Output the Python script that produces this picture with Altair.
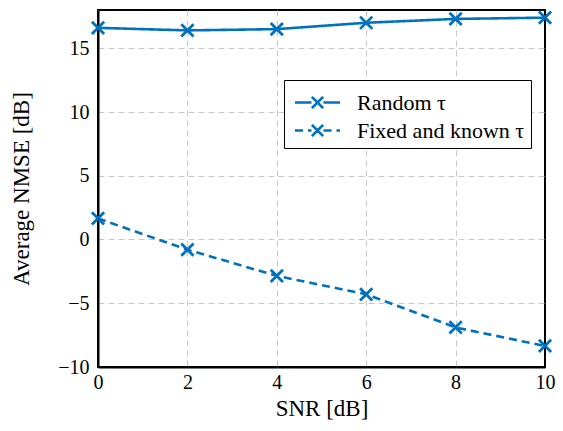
import altair as alt
import pandas as pd

snr = [0, 2, 4, 6, 8, 10]
random_tau = [16.6, 16.4, 16.5, 17.0, 17.3, 17.4]
fixed_tau = [1.65, -0.8, -2.85, -4.3, -6.9, -8.35]
series_names = ["Random τ", "Fixed and known τ"]

rows = []
for x, y in zip(snr, random_tau):
    rows.append({"snr": x, "nmse": y, "series": series_names[0]})
for x, y in zip(snr, fixed_tau):
    rows.append({"snr": x, "nmse": y, "series": series_names[1]})
df = pd.DataFrame(rows)

BLUE = "#0072BD"
FONT = "Liberation Serif"
xmark = "M-1,-1L1,1M-1,1L1,-1"
legend_sym = ("M-1.5,0L-0.4,0M0.4,0L1.5,0"
              "M0,0L0.38,0.38M0,0L-0.38,-0.38M0,0L0.38,-0.38M0,0L-0.38,0.38")

def make_legend():
    return alt.Legend(title=None, orient="none", legendX=186, legendY=70,
                      symbolType=legend_sym, symbolSize=900,
                      symbolStrokeWidth=2.6, labelFont=FONT, labelFontSize=22,
                      labelLimit=400,
                      labelColor="black", strokeColor="black", fillColor="white",
                      padding=6, rowPadding=-2, labelOffset=23, symbolOffset=11)

grid_op = {"condition": {"test": "datum.value == 10", "value": 0}, "value": 1}

common_axis = dict(labelFont=FONT, titleFont=FONT, labelFontSize=20, titleFontSize=23,
                   titleFontWeight="normal", labelColor="black", titleColor="black",
                   gridDash=[6, 4], gridColor="#c8c8c8", gridWidth=1,
                   domainColor="black", domainWidth=2, ticks=False, labelFlush=False)

x_enc = alt.X("snr:Q", scale=alt.Scale(domain=[0, 10], nice=False),
              axis=alt.Axis(values=[0, 2, 4, 6, 8, 10], title="SNR [dB]",
                            gridOpacity=grid_op, labelPadding=5, titlePadding=5,
                            **common_axis))
y_enc = alt.Y("nmse:Q", scale=alt.Scale(domain=[-10, 18], nice=False),
              axis=alt.Axis(values=[-10, -5, 0, 5, 10, 15], title="Average NMSE [dB]",
                            labelPadding=9, titlePadding=24, **common_axis))

lines = alt.Chart(df).mark_line(strokeWidth=2.6).encode(
    x=x_enc, y=y_enc,
    color=alt.Color("series:N", scale=alt.Scale(domain=series_names, range=[BLUE, BLUE]),
                    legend=make_legend()),
    strokeDash=alt.StrokeDash("series:N", scale=alt.Scale(domain=series_names, range=[[1, 0], [8, 5]]),
                              legend=make_legend()),
)

points = alt.Chart(df).mark_point(shape=xmark, size=150, strokeWidth=2.8, filled=False,
                                  color=BLUE, opacity=1).encode(
    x="snr:Q", y="nmse:Q", detail="series:N"
)

chart = alt.layer(lines, points).properties(
    width=447, height=357,
    autosize=alt.AutoSizeParams(type="none"),
    padding={"left": 98, "top": 10, "right": 18, "bottom": 64},
).configure_view(stroke="black", strokeWidth=2)

chart.save("out.html", embed_options={"renderer": "svg", "actions": False})
